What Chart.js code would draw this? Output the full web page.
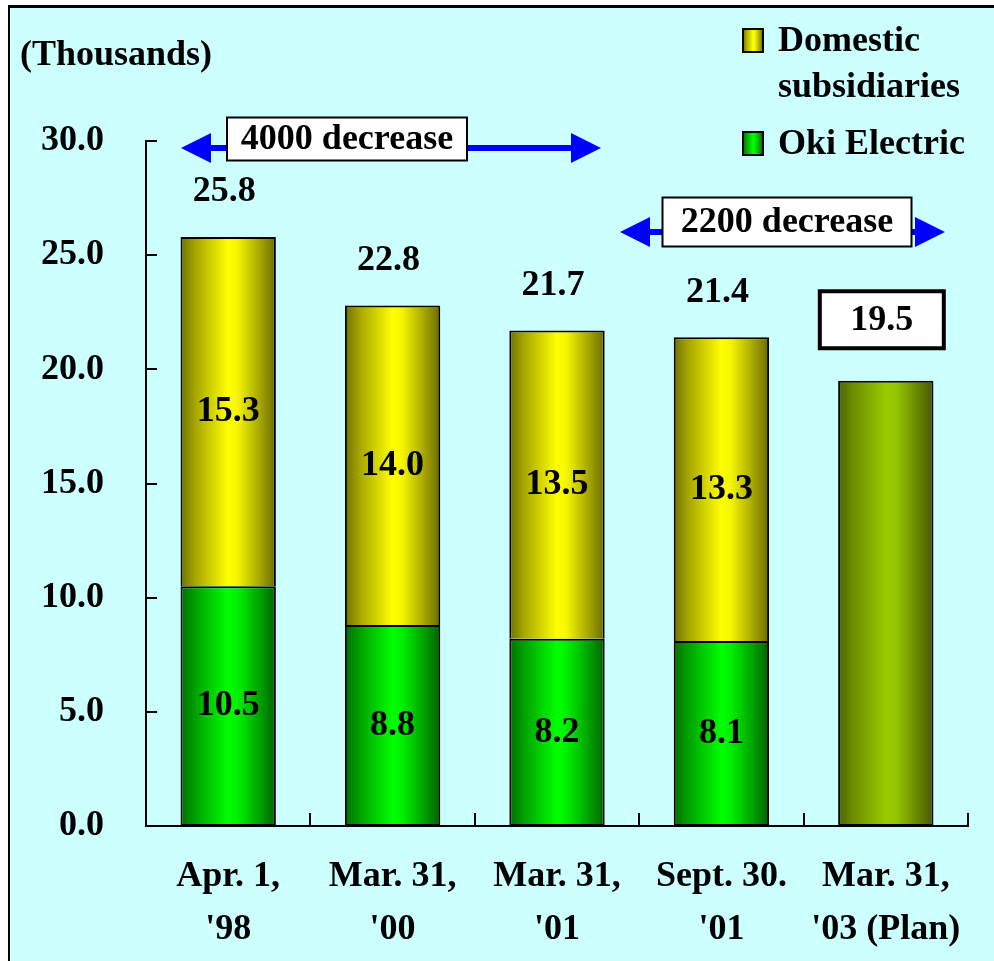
<!DOCTYPE html>
<html>
<head>
<meta charset="utf-8">
<title>Employees (Thousands)</title>
<script src="https://cdn.jsdelivr.net/npm/chart.js@4/dist/chart.umd.min.js"></script>
<style>
    html, body { margin: 0; padding: 0; background: #fff; }
    #wrap { width: 994px; height: 961px; }
</style>
</head>
<body>
<div id="wrap"><canvas id="staffChart" width="994" height="961"></canvas></div>
<script>
// 数据
const categories = [
    ['Apr. 1,', "'98"],
    ['Mar. 31,', "'00"],
    ['Mar. 31,', "'01"],
    ['Sept. 30.', "'01"],
    ['Mar. 31,', "'03 (Plan)"]
];
const okiElectric = [10.5, 8.8, 8.2, 8.1, null];
const domesticSubs = [15.3, 14.0, 13.5, 13.3, null];
const planTotal = [null, null, null, null, 19.5];
const yTickLabels = ['0.0', '5.0', '10.0', '15.0', '20.0', '25.0', '30.0'];
const legendItems = [
    { lines: ['Domestic', 'subsidiaries'], series: 1 },
    { lines: ['Oki Electric'], series: 0 }
];
const decreaseNotes = ['4000 decrease', '2200 decrease'];

// 样式
const FONT = '"Liberation Serif", "Times New Roman", serif';
const FONT_SIZE = 36;
const BAR_PCT = 0.58;
const GREEN_STOPS = [[0, '#006e00'], [0.15, '#00a000'], [0.5, '#00ff00'], [0.6, '#00f000'], [0.88, '#009000'], [1, '#006000']];
const YELLOW_STOPS = [[0, '#707000'], [0.15, '#a5a500'], [0.5, '#ffff00'], [0.6, '#f5f500'], [0.88, '#959500'], [1, '#6a6a00']];
const PLAN_STOPS = [[0, '#4c6400'], [0.15, '#6c8c00'], [0.5, '#99cc00'], [0.62, '#93c400'], [0.88, '#5e7800'], [1, '#485800']];

function makeGradient(g, x1, x2, stops) {
    const grad = g.createLinearGradient(x1, 0, x2, 0);
    stops.forEach(([o, c]) => grad.addColorStop(o, c));
    return grad;
}

// 每根柱子横向渐变
function barFill(stops) {
    return (ctx) => {
        const chart = ctx.chart;
        const xs = chart.scales.x;
        if (ctx.type !== 'data' || !xs || !chart.chartArea) return stops[2][1];
        const cx = xs.getPixelForValue(ctx.dataIndex);
        const half = xs.width / categories.length * BAR_PCT / 2;
        return makeGradient(chart.ctx, cx - half, cx + half, stops);
    };
}

function boxText(g, text, cx, cy, w, h, lw) {
    g.fillStyle = '#fff';
    g.fillRect(cx - w / 2, cy - h / 2, w, h);
    g.lineWidth = lw;
    g.strokeStyle = '#000';
    g.strokeRect(cx - w / 2, cy - h / 2, w, h);
    g.fillStyle = '#000';
    g.fillText(text, cx, cy + 1);
}

function drawArrow(g, x1, x2, y) {
    const head = 30, hh = 15;
    g.strokeStyle = '#0000ff';
    g.fillStyle = '#0000ff';
    g.lineWidth = 6;
    g.beginPath();
    g.moveTo(x1 + head - 2, y);
    g.lineTo(x2 - head + 2, y);
    g.stroke();
    g.beginPath();
    g.moveTo(x1, y);
    g.lineTo(x1 + head, y - hh);
    g.lineTo(x1 + head, y + hh);
    g.closePath();
    g.fill();
    g.beginPath();
    g.moveTo(x2, y);
    g.lineTo(x2 - head, y - hh);
    g.lineTo(x2 - head, y + hh);
    g.closePath();
    g.fill();
}

// 背景和边框
const backdropPlugin = {
    id: 'backdrop',
    beforeDraw(chart) {
        const g = chart.ctx;
        g.save();
        g.fillStyle = '#fff';
        g.fillRect(0, 0, chart.width, chart.height);
        g.fillStyle = '#ccffff';
        g.fillRect(8, 5, chart.width - 8, chart.height - 5);
        g.fillStyle = '#000';
        g.fillRect(8, 5, chart.width - 8, 3);
        g.fillRect(8, 5, 2, chart.height - 5);
        g.restore();
    }
};

// 内侧刻度线、数值标签、图例、注释
const overlayPlugin = {
    id: 'overlay',
    afterDraw(chart) {
        const g = chart.ctx;
        const xs = chart.scales.x, ys = chart.scales.y;
        const area = chart.chartArea;
        g.save();

        // 刻度线（朝内）
        g.strokeStyle = '#000';
        g.lineWidth = 2;
        yTickLabels.forEach((t) => {
            const y = Math.round(ys.getPixelForValue(parseFloat(t)));
            g.beginPath();
            g.moveTo(area.left, y);
            g.lineTo(area.left + 11, y);
            g.stroke();
        });
        const catW = xs.width / categories.length;
        for (let i = 1; i <= categories.length; i++) {
            const x = Math.round(area.left + i * catW);
            g.beginPath();
            g.moveTo(x, area.bottom);
            g.lineTo(x, area.bottom - 13);
            g.stroke();
        }

        // 数值标签
        g.font = 'bold ' + FONT_SIZE + 'px ' + FONT;
        g.textAlign = 'center';
        g.textBaseline = 'middle';
        g.fillStyle = '#000';
        const greenMeta = chart.getDatasetMeta(0);
        const yellowMeta = chart.getDatasetMeta(1);
        const planMeta = chart.getDatasetMeta(2);
        categories.forEach((c, i) => {
            if (okiElectric[i] != null) {
                const gb = greenMeta.data[i];
                g.fillText(okiElectric[i].toFixed(1), gb.x, (gb.y + gb.base) / 2);
                const yb = yellowMeta.data[i];
                g.fillText(domesticSubs[i].toFixed(1), yb.x, (yb.y + yb.base) / 2);
                const total = okiElectric[i] + domesticSubs[i];
                g.fillText(total.toFixed(1), yb.x - 4, yb.y - 45);
            }
            if (planTotal[i] != null) {
                const pb = planMeta.data[i];
                boxText(g, planTotal[i].toFixed(1), pb.x - 4, pb.y - 61, 124, 57, 4);
            }
        });

        // 注释箭头
        drawArrow(g, 181, 601, 148);
        drawArrow(g, 620, 945, 232);
        boxText(g, decreaseNotes[0], 347, 139, 240, 43, 2);
        boxText(g, decreaseNotes[1], 787, 222, 249, 49, 2);

        // 纵轴单位
        g.textAlign = 'left';
        g.fillText('(Thousands)', 20, 56);

        // 图例
        const stops = [GREEN_STOPS, YELLOW_STOPS];
        const rows = [{ y: 42, item: legendItems[0] }, { y: 145, item: legendItems[1] }];
        rows.forEach(({ y, item }) => {
            g.fillStyle = makeGradient(g, 743, 763, stops[item.series]);
            g.fillRect(743, y - 13, 20, 23);
            g.lineWidth = 2;
            g.strokeStyle = '#000';
            g.strokeRect(743, y - 13, 20, 23);
            g.fillStyle = '#000';
            item.lines.forEach((ln, k) => g.fillText(ln, 778, y + k * 46));
        });

        g.restore();
    }
};

Chart.defaults.font.family = FONT;
Chart.defaults.font.weight = 'bold';
Chart.defaults.font.size = FONT_SIZE;
Chart.defaults.color = '#000';

const barStyle = {
    borderColor: '#000',
    borderWidth: 2,
    barPercentage: BAR_PCT,
    categoryPercentage: 1
};

new Chart(document.getElementById('staffChart'), {
    type: 'bar',
    data: {
        labels: categories,
        datasets: [
            { label: 'Oki Electric', data: okiElectric, backgroundColor: barFill(GREEN_STOPS), borderSkipped: false, ...barStyle },
            // 上段不画底边，避免和下段的顶边叠成粗线
            { label: 'Domestic subsidiaries', data: domesticSubs, backgroundColor: barFill(YELLOW_STOPS), borderSkipped: 'bottom', ...barStyle },
            { label: 'Plan', data: planTotal, backgroundColor: barFill(PLAN_STOPS), borderSkipped: false, ...barStyle }
        ]
    },
    options: {
        responsive: false,
        animation: false,
        layout: { padding: { top: 141, right: 26, left: 0, bottom: 0 } },
        plugins: {
            legend: { display: false },
            tooltip: { enabled: false }
        },
        scales: {
            x: {
                stacked: true,
                grid: { display: false, drawTicks: false },
                border: { display: true, color: '#000', width: 2 },
                ticks: {
                    padding: 25,
                    maxRotation: 0,
                    autoSkip: false,
                    font: { size: FONT_SIZE, weight: 'bold', lineHeight: 1.45 }
                },
                afterFit(scale) { scale.height = 135; }
            },
            y: {
                stacked: true,
                min: 0,
                max: 30,
                grid: { display: false, drawTicks: false },
                border: { display: true, color: '#000', width: 2 },
                ticks: {
                    stepSize: 5,
                    padding: 42,
                    font: { size: FONT_SIZE, weight: 'bold' },
                    callback: (v) => yTickLabels[Math.round(v / 5)]
                },
                afterFit(scale) { scale.width = 146; }
            }
        }
    },
    plugins: [backdropPlugin, overlayPlugin]
});
</script>
</body>
</html>
